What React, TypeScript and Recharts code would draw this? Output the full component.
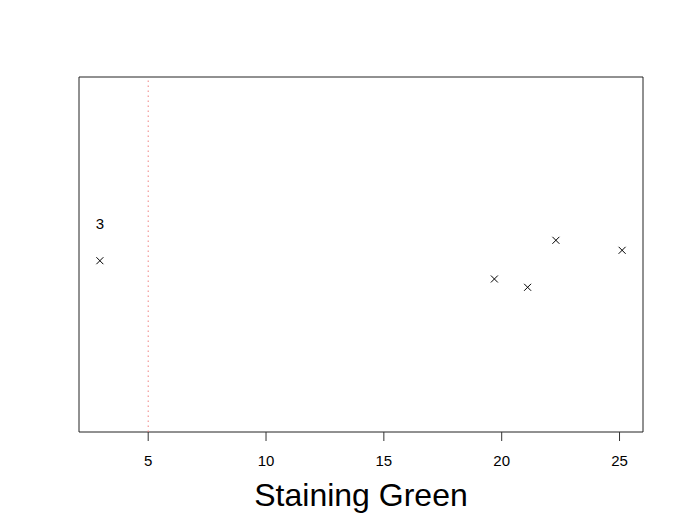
import { ScatterChart, Scatter, XAxis, YAxis, ReferenceLine, ReferenceArea } from 'recharts'

// values
const stainingGreen = [2.95, 19.69, 21.1, 22.3, 25.11]
const yPos = [0.4825, 0.431, 0.4076, 0.54, 0.5118]
const pointLabels = ['3', '', '', '', '']
const xTicks = [5, 10, 15, 20, 25]
const cutoff = 5

const FONT = '"Liberation Sans", Arial, Helvetica, sans-serif'

const data = stainingGreen.map((x, i) => ({ x, y: yPos[i], label: pointLabels[i] }))

// R-style 4% padding on the x range
const span = Math.max(...stainingGreen) - Math.min(...stainingGreen)
const xDomain: [number, number] = [
  Math.min(...stainingGreen) - 0.04 * span,
  Math.max(...stainingGreen) + 0.04 * span
]

const CrossShape = (props: any) => {
  const { cx, cy, payload } = props
  const s = 3.5
  return (
    <g>
      <line x1={cx - s} y1={cy - s} x2={cx + s} y2={cy + s} stroke="#000" strokeWidth={1} />
      <line x1={cx - s} y1={cy + s} x2={cx + s} y2={cy - s} stroke="#000" strokeWidth={1} />
      {payload.label ? (
        <text x={cx} y={cy - 32} textAnchor="middle" fontSize={15} fontFamily={FONT} fill="#000">
          {payload.label}
        </text>
      ) : null}
    </g>
  )
}

export default function App() {
  return (
    <div style={{ position: 'absolute', left: 0, top: 0, width: 684, height: 530, background: '#fff' }}>
      <ScatterChart width={684} height={530} margin={{ top: 77, right: 41, bottom: 24, left: 79 }}>
        <XAxis
          type="number"
          dataKey="x"
          domain={xDomain}
          ticks={xTicks}
          allowDataOverflow
          axisLine={false}
          tickSize={9}
          tickMargin={14}
          height={74}
          tickLine={{ stroke: '#333' }}
          tick={{ fill: '#000', fontSize: 15, fontFamily: FONT }}
          label={{
            value: 'Staining Green',
            position: 'insideBottom',
            offset: 0,
            fill: '#000',
            fontSize: 32,
            fontFamily: FONT
          }}
        />
        <YAxis type="number" dataKey="y" domain={[0, 1]} hide />
        <ReferenceArea
          x1={xDomain[0]}
          x2={xDomain[1]}
          y1={0}
          y2={1}
          fill="none"
          fillOpacity={0}
          stroke="#222"
          strokeWidth={1}
          ifOverflow="visible"
        />
        <ReferenceLine x={cutoff} stroke="#f08080" strokeDasharray="1.5 3.5" strokeWidth={1} />
        <Scatter data={data} shape={CrossShape} isAnimationActive={false} />
      </ScatterChart>
    </div>
  )
}
